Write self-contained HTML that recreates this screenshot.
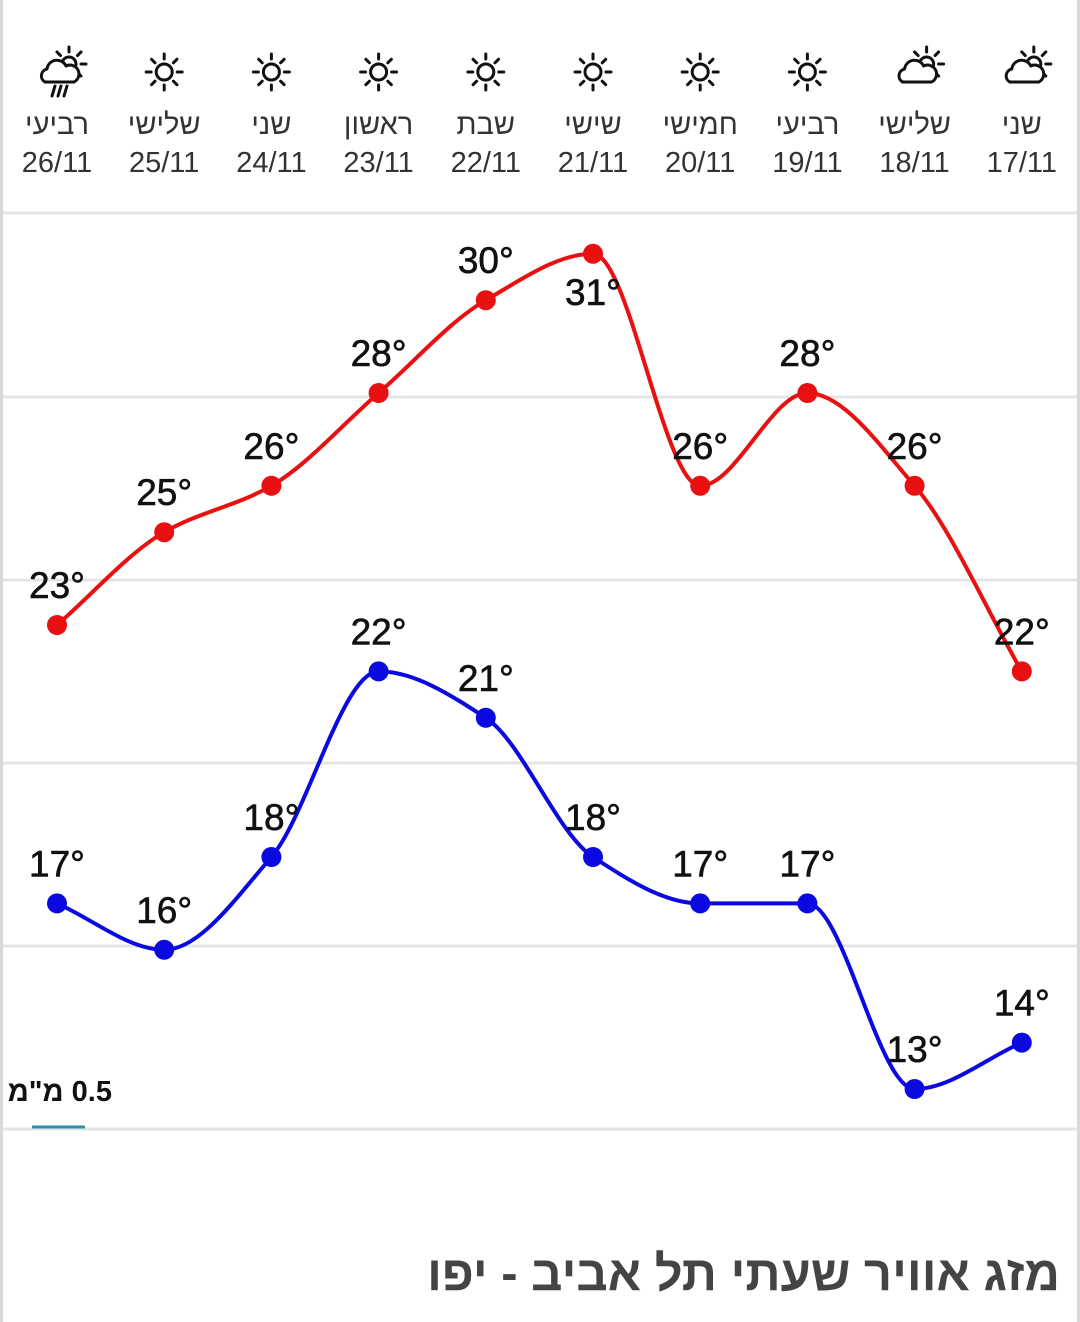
<!DOCTYPE html>
<html><head><meta charset="utf-8">
<style>
html,body{margin:0;padding:0;background:#fff;}
body{width:1080px;height:1322px;position:relative;overflow:hidden;font-family:"Liberation Sans","Noto Sans CJK SC",sans-serif;}
.border{position:absolute;top:0;bottom:0;width:3px;background:#d8d8d8;}
</style></head><body>
<div class="border" style="left:0"></div>
<div class="border" style="right:0"></div>
<svg id="chart" width="1080" height="1322" style="position:absolute;left:0;top:0"></svg>
<script>
const dates=["26/11","25/11","24/11","23/11","22/11","21/11","20/11","19/11","18/11","17/11"];
const dayNames=["רביעי","שלישי","שני","ראשון","שבת","שישי","חמישי","רביעי","שלישי","שני"];
const icons=["rain","sun","sun","sun","sun","sun","sun","sun","cloud","cloud"];
const highs=[23,25,26,28,30,31,26,28,26,22];
const lows=[17,16,18,22,21,18,17,17,13,14];
const gridY=[213,397,580,763,946,1129];
const NS="http://www.w3.org/2000/svg";
const svg=document.getElementById('chart');
function xs(i){return 57+i*107.2;}
function ys(t){return 625-(t-23)*46.4;}
function mk(tag,attrs,parent){const e=document.createElementNS(NS,tag);for(const k in attrs)e.setAttribute(k,attrs[k]);(parent||svg).appendChild(e);return e;}
gridY.forEach(g=>{const l=mk('line',{x1:3,x2:1077,y1:g,y2:g,stroke:'#e4e4e4','stroke-width':3});

});
function sunIcon(g,cx,cy,r){
  mk('circle',{cx:cx,cy:cy,r:r,fill:'none',stroke:'#111','stroke-width':3},g);
  for(let k=0;k<8;k++){const a=k*Math.PI/4;mk('line',{x1:cx+Math.cos(a)*(r+5),y1:cy+Math.sin(a)*(r+5),x2:cx+Math.cos(a)*(r+10),y2:cy+Math.sin(a)*(r+10),stroke:'#111','stroke-width':3,'stroke-linecap':'round'},g);}
}
function cloudIcon(g,cx,cy,rain){
  sunIcon(g,cx+8,cy-6,7);
  mk('path',{d:`M${cx-16} ${cy+12} a7 7 0 0 1 2 -13 a10 10 0 0 1 19 -3 a8 8 0 0 1 8 16 Z`,fill:'#fff',stroke:'#111','stroke-width':3,'stroke-linejoin':'round'},g);
  if(rain){for(let k=0;k<3;k++)mk('line',{x1:cx-6+k*6,y1:cy+16,x2:cx-9+k*6,y2:cy+26,stroke:'#111','stroke-width':3,'stroke-linecap':'round'},g);}
}
dates.forEach((d,i)=>{
  const x=xs(i);
  const g=mk('g',{});
  
  
  if(icons[i]==='sun')sunIcon(g,x,72,8);
  else cloudIcon(g,x+4,70,icons[i]==='rain');
  const t1=mk('text',{x:x,y:134,'text-anchor':'middle','font-size':29,fill:'#333'},g);t1.textContent=dayNames[i];
  
  
  const t2=mk('text',{x:x,y:172,'text-anchor':'middle','font-size':29,fill:'#333'},g);t2.textContent=d;
  
  
});
function monoPath(pts){
  const n=pts.length,dx=[],m=[],s=[];
  for(let i=0;i<n-1;i++){dx.push(pts[i+1][0]-pts[i][0]);s.push((pts[i+1][1]-pts[i][1])/dx[i]);}
  m[0]=s[0];m[n-1]=s[n-2];
  for(let i=1;i<n-1;i++){m[i]=(s[i-1]*s[i]<=0)?0:(3*(dx[i-1]+dx[i]))/((2*dx[i]+dx[i-1])/s[i-1]+(dx[i]+2*dx[i-1])/s[i]);}
  let d=`M${pts[0][0]} ${pts[0][1]}`;
  for(let i=0;i<n-1;i++){const h=dx[i]/3;d+=` C${pts[i][0]+h} ${pts[i][1]+m[i]*h} ${pts[i+1][0]-h} ${pts[i+1][1]-m[i+1]*h} ${pts[i+1][0]} ${pts[i+1][1]}`;}
  return d;
}
function series(vals,color,name,isHigh){
  const pts=vals.map((v,i)=>[xs(i),ys(v)]);
  const p=mk('path',{d:monoPath(pts),fill:'none',stroke:color,'stroke-width':4});
  
  
  vals.forEach((v,i)=>{
    const c=mk('circle',{cx:xs(i),cy:ys(v),r:10,fill:color});
    
    
  });
  const mx=Math.max(...vals);
  vals.forEach((v,i)=>{
    const below=isHigh && v===mx;
    const t=mk('text',{x:xs(i),y:below?ys(v)+51:ys(v)-27,'text-anchor':'middle','font-size':37,fill:'#111',stroke:'#111','stroke-width':0.6});
    t.textContent=v+'°';
    
    
  });
}
series(highs,'#e81010','high-temp',true);
series(lows,'#0a0ae0','low-temp',false);
const rl=mk('line',{x1:32,x2:85,y1:1127,y2:1127,stroke:'#2a8fb0','stroke-width':3});


const rt=mk('text',{x:112,y:1101,'text-anchor':'start','font-size':29,'font-weight':'bold',fill:'#111',direction:'rtl'});
rt.textContent='0.5 מ"מ';


const tt=mk('text',{x:1060,y:1290,'text-anchor':'start','font-size':49,'font-weight':'bold',fill:'#444',direction:'rtl'});
tt.textContent='מזג אוויר שעתי תל אביב - יפו';


</script>
</body></html>
